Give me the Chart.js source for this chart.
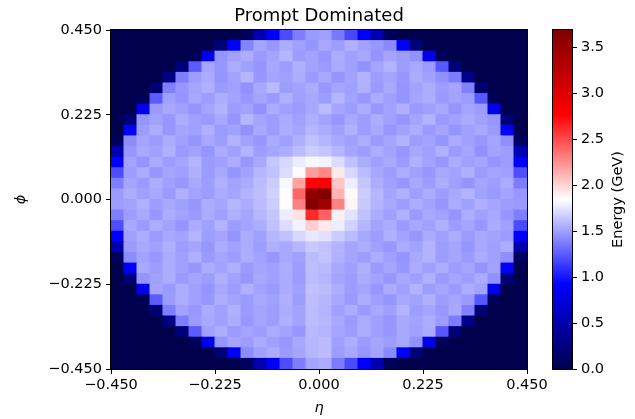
<!DOCTYPE html>
<html><head><meta charset="utf-8">
<script src="https://cdn.jsdelivr.net/npm/chart.js@4.4.1/dist/chart.umd.min.js"></script>
<style>
html,body{margin:0;padding:0;background:#fff;}
#wrap{position:relative;width:635px;height:419px;overflow:hidden;}
#main{position:absolute;left:0;top:0;}
#cbar{position:absolute;left:540px;top:0;}
</style></head><body>
<div id="wrap"><canvas id="main" width="635" height="419"></canvas><canvas id="cbar" width="95" height="419"></canvas></div>
<script>
// bin edges shared by eta (x) and phi (y)
const binEdges = [-0.45, -0.421875, -0.39375, -0.365625, -0.3375, -0.309375, -0.28125, -0.253125, -0.225,
  -0.196875, -0.16875, -0.140625, -0.1125, -0.084375, -0.05625, -0.028125, 0,
  0.028125, 0.05625, 0.084375, 0.1125, 0.140625, 0.16875, 0.196875, 0.225,
  0.253125, 0.28125, 0.309375, 0.3375, 0.365625, 0.39375, 0.421875, 0.45];
const axisTicks = [-0.45, -0.225, 0, 0.225, 0.45];
const colorbarTicks = [0, 0.5, 1, 1.5, 2, 2.5, 3, 3.5];
const energyMin = 0;
const energyMax = 3.69;
// energy (GeV), rows listed top (phi = +0.45) to bottom (phi = -0.45), columns eta -0.45 -> 0.45
const energy = [
[0,0,0,0,0,0,0,0,0,0,0.09,0.52,0.90,1.19,1.38,1.48,1.50,1.36,1.18,0.92,0.50,0.08,0,0,0,0,0,0,0,0,0,0],
[0,0,0,0,0,0,0,0,0.22,0.92,1.40,1.52,1.47,1.55,1.50,1.46,1.53,1.49,1.56,1.51,1.47,1.42,0.90,0.23,0,0,0,0,0,0,0,0],
[0,0,0,0,0,0,0.06,0.83,1.46,1.50,1.55,1.48,1.52,1.58,1.49,1.51,1.47,1.55,1.50,1.53,1.46,1.52,1.49,1.45,0.82,0.06,0,0,0,0,0,0],
[0,0,0,0,0,0.22,1.25,1.52,1.47,1.55,1.50,1.46,1.53,1.49,1.56,1.51,1.48,1.54,1.50,1.45,1.52,1.57,1.49,1.53,1.48,1.24,0.23,0,0,0,0,0],
[0,0,0,0,0.30,1.38,1.49,1.54,1.46,1.51,1.58,1.47,1.52,1.50,1.55,1.48,1.53,1.46,1.51,1.57,1.49,1.52,1.47,1.54,1.50,1.45,1.37,0.31,0,0,0,0],
[0,0,0,0.21,1.38,1.47,1.52,1.56,1.48,1.50,1.45,1.53,1.59,1.49,1.51,1.54,1.47,1.52,1.50,1.56,1.48,1.53,1.46,1.51,1.55,1.49,1.52,1.39,0.20,0,0,0],
[0,0,0.06,1.25,1.50,1.46,1.53,1.49,1.55,1.51,1.47,1.52,1.48,1.56,1.50,1.53,1.49,1.58,1.51,1.47,1.54,1.50,1.46,1.52,1.55,1.48,1.51,1.49,1.24,0.06,0,0],
[0,0,0.83,1.48,1.53,1.50,1.46,1.52,1.57,1.49,1.51,1.45,1.54,1.50,1.48,1.53,1.60,1.52,1.49,1.55,1.47,1.51,1.56,1.48,1.50,1.53,1.46,1.52,1.49,0.82,0,0],
[0,0.22,1.46,1.51,1.47,1.55,1.50,1.48,1.53,1.46,1.58,1.52,1.49,1.54,1.50,1.56,1.51,1.47,1.53,1.49,1.55,1.50,1.46,1.52,1.57,1.48,1.51,1.54,1.50,1.47,0.23,0],
[0,0.92,1.49,1.54,1.47,1.52,1.50,1.56,1.48,1.51,1.45,1.53,1.49,1.55,1.52,1.58,1.54,1.50,1.56,1.49,1.53,1.47,1.51,1.55,1.48,1.52,1.46,1.50,1.53,1.48,0.91,0],
[0.09,1.43,1.52,1.48,1.55,1.50,1.46,1.53,1.49,1.57,1.51,1.47,1.54,1.50,1.56,1.62,1.58,1.53,1.50,1.55,1.48,1.52,1.57,1.49,1.51,1.46,1.54,1.50,1.47,1.52,1.44,0.09],
[0.52,1.47,1.53,1.50,1.56,1.48,1.51,1.46,1.54,1.50,1.57,1.49,1.52,1.55,1.60,1.66,1.63,1.58,1.52,1.49,1.55,1.51,1.47,1.53,1.50,1.56,1.48,1.52,1.45,1.51,1.49,0.53],
[0.90,1.51,1.46,1.54,1.49,1.52,1.57,1.48,1.50,1.55,1.47,1.53,1.64,1.70,1.78,1.82,1.80,1.72,1.62,1.55,1.50,1.53,1.48,1.56,1.51,1.47,1.54,1.50,1.52,1.46,1.49,0.89],
[1.20,1.49,1.54,1.47,1.52,1.50,1.56,1.48,1.53,1.46,1.51,1.58,1.62,1.72,1.86,2.20,2.28,1.92,1.70,1.60,1.53,1.49,1.55,1.50,1.47,1.53,1.51,1.56,1.48,1.52,1.50,1.21],
[1.38,1.52,1.48,1.55,1.50,1.47,1.53,1.49,1.56,1.51,1.54,1.60,1.66,1.82,2.18,2.76,2.82,2.05,1.78,1.64,1.55,1.50,1.47,1.53,1.49,1.55,1.50,1.46,1.52,1.49,1.54,1.37],
[1.48,1.55,1.50,1.53,1.48,1.56,1.51,1.49,1.54,1.52,1.57,1.61,1.68,1.85,2.40,3.58,3.69,2.12,1.86,1.66,1.58,1.52,1.56,1.50,1.54,1.49,1.53,1.57,1.51,1.48,1.52,1.47],
[1.49,1.51,1.56,1.49,1.53,1.50,1.47,1.55,1.52,1.58,1.54,1.60,1.66,1.84,2.30,3.66,3.45,2.30,1.88,1.65,1.57,1.53,1.49,1.55,1.51,1.47,1.54,1.50,1.56,1.52,1.49,1.48],
[1.38,1.49,1.53,1.47,1.55,1.51,1.48,1.54,1.50,1.56,1.52,1.58,1.64,1.78,1.95,2.62,2.42,1.90,1.74,1.62,1.54,1.50,1.56,1.48,1.53,1.51,1.46,1.55,1.50,1.53,1.47,1.38],
[1.20,1.53,1.48,1.55,1.51,1.46,1.54,1.50,1.57,1.49,1.52,1.55,1.62,1.72,1.80,2.02,1.92,1.78,1.68,1.58,1.51,1.55,1.48,1.53,1.50,1.56,1.49,1.52,1.47,1.54,1.50,1.19],
[0.90,1.50,1.55,1.48,1.53,1.51,1.57,1.49,1.52,1.46,1.54,1.50,1.58,1.62,1.70,1.76,1.74,1.66,1.60,1.53,1.49,1.56,1.51,1.47,1.54,1.50,1.55,1.48,1.53,1.51,1.49,0.91],
[0.52,1.48,1.53,1.50,1.56,1.49,1.52,1.47,1.55,1.51,1.54,1.49,1.56,1.53,1.58,1.65,1.62,1.57,1.52,1.55,1.50,1.47,1.54,1.51,1.57,1.49,1.52,1.46,1.53,1.50,1.55,0.51],
[0.09,1.43,1.51,1.47,1.54,1.50,1.56,1.48,1.52,1.49,1.55,1.51,1.47,1.53,1.50,1.60,1.63,1.56,1.52,1.49,1.55,1.50,1.46,1.53,1.57,1.49,1.52,1.48,1.54,1.50,1.44,0.09],
[0,0.92,1.53,1.49,1.55,1.50,1.47,1.54,1.51,1.56,1.48,1.52,1.50,1.55,1.49,1.61,1.59,1.53,1.50,1.56,1.48,1.52,1.47,1.54,1.50,1.55,1.49,1.52,1.46,1.51,0.92,0],
[0,0.22,1.46,1.50,1.55,1.48,1.52,1.49,1.56,1.51,1.47,1.53,1.50,1.54,1.48,1.60,1.58,1.52,1.49,1.55,1.51,1.47,1.53,1.50,1.56,1.48,1.52,1.49,1.54,1.45,0.23,0],
[0,0,0.83,1.52,1.48,1.55,1.50,1.46,1.53,1.49,1.56,1.51,1.48,1.54,1.50,1.62,1.60,1.55,1.49,1.52,1.47,1.54,1.50,1.57,1.49,1.52,1.48,1.55,1.51,0.82,0,0],
[0,0,0.06,1.25,1.49,1.54,1.50,1.47,1.55,1.51,1.48,1.53,1.50,1.56,1.49,1.61,1.58,1.53,1.48,1.55,1.50,1.46,1.53,1.51,1.56,1.49,1.52,1.48,1.24,0.06,0,0],
[0,0,0,0.21,1.38,1.51,1.47,1.54,1.50,1.56,1.48,1.52,1.49,1.55,1.51,1.60,1.57,1.50,1.54,1.48,1.53,1.50,1.57,1.49,1.52,1.47,1.53,1.39,0.21,0,0,0],
[0,0,0,0,0.30,1.38,1.48,1.53,1.50,1.55,1.47,1.52,1.49,1.56,1.51,1.60,1.58,1.53,1.48,1.54,1.50,1.46,1.53,1.51,1.55,1.49,1.37,0.30,0,0,0,0],
[0,0,0,0,0,0.22,1.25,1.50,1.55,1.48,1.52,1.49,1.54,1.51,1.47,1.59,1.57,1.52,1.49,1.55,1.50,1.47,1.53,1.50,1.54,1.24,0.23,0,0,0,0,0],
[0,0,0,0,0,0,0.06,0.83,1.46,1.52,1.49,1.54,1.50,1.47,1.53,1.58,1.60,1.50,1.55,1.48,1.52,1.49,1.53,1.45,0.82,0.06,0,0,0,0,0,0],
[0,0,0,0,0,0,0,0,0.22,0.92,1.43,1.50,1.54,1.48,1.52,1.58,1.60,1.49,1.53,1.47,1.51,1.42,0.91,0.23,0,0,0,0,0,0,0,0],
[0,0,0,0,0,0,0,0,0,0,0.09,0.52,0.90,1.20,1.38,1.52,1.54,1.37,1.19,0.91,0.51,0.08,0,0,0,0,0,0,0,0,0,0]
];

// matplotlib "seismic" colormap anchors
const seismicStops = [[0, 0, 0, 0.3], [0.25, 0, 0, 1], [0.5, 1, 1, 1], [0.75, 1, 0, 0], [1, 0.5, 0, 0]];
function rgbOf(s) { return 'rgb(' + Math.round(s[1]*255) + ',' + Math.round(s[2]*255) + ',' + Math.round(s[3]*255) + ')'; }
function seismic(t) {
  t = Math.max(0, Math.min(1, t));
  for (let i = 1; i < seismicStops.length; i++) {
    const a = seismicStops[i-1], b = seismicStops[i];
    if (t <= b[0]) {
      const f = (t - a[0]) / (b[0] - a[0]);
      return rgbOf([0, a[1]+(b[1]-a[1])*f, a[2]+(b[2]-a[2])*f, a[3]+(b[3]-a[3])*f]);
    }
  }
  return rgbOf(seismicStops[seismicStops.length-1]);
}

Chart.defaults.font.family = "'DejaVu Sans', sans-serif";
Chart.defaults.color = '#000';

const nBins = binEdges.length - 1;
const cells = [];
for (let r = 0; r < energy.length; r++) {
  for (let c = 0; c < energy[r].length; c++) {
    cells.push({ x: (binEdges[c] + binEdges[c+1]) / 2, y: [binEdges[nBins-1-r], binEdges[nBins-r]], v: energy[r][c] });
  }
}

const fmt3 = v => Number(v).toFixed(3).replace('-', '\u2212');
const framePlugin = {
  id: 'frame',
  afterDraw(chart) {
    const a = chart.chartArea, ctx = chart.ctx;
    ctx.save();
    ctx.strokeStyle = '#000'; ctx.lineWidth = 1;
    ctx.strokeRect(Math.round(a.left) - 0.5, Math.round(a.top) - 0.5, Math.round(a.right - a.left) + 1, Math.round(a.bottom - a.top) + 1);
    ctx.restore();
  }
};

new Chart(document.getElementById('main'), {
  type: 'bar',
  data: { datasets: [{
    data: cells,
    backgroundColor: ctx => ctx.raw ? seismic((ctx.raw.v - energyMin) / (energyMax - energyMin)) : '#000',
    borderWidth: 0, barPercentage: 1, categoryPercentage: 1, inflateAmount: 0.5,
    base: -10
  }]},
  options: {
    responsive: false, animation: false, events: [],
    layout: { padding: { left: 0, right: 108, top: 0, bottom: 0 } },
    plugins: {
      legend: { display: false }, tooltip: { enabled: false },
      title: { display: true, text: 'Prompt Dominated', fullSize: false, color: '#000',
        font: { size: 18, weight: 'normal' }, padding: { top: 5.5, bottom: 2.9 } }
    },
    scales: {
      x: {
        type: 'linear', min: -0.45, max: 0.45, offset: false,
        afterBuildTicks: s => { s.ticks = axisTicks.map(v => ({ value: v })); },
        afterFit: s => { s.height = 50; },
        ticks: { callback: fmt3, font: { size: 14.5 }, color: '#000', padding: 3, maxRotation: 0, autoSkip: false },
        grid: { offset: false, drawOnChartArea: false, drawTicks: true, tickLength: 5, color: '#000' },
        border: { display: false },
        title: { display: true, text: 'η', color: '#000', font: { size: 14.5, style: 'italic' }, padding: { top: 0, bottom: 2 } }
      },
      y: {
        type: 'linear', min: -0.45, max: 0.45,
        afterBuildTicks: s => { s.ticks = axisTicks.map(v => ({ value: v })); },
        afterFit: s => { s.width = 111; },
        ticks: { callback: fmt3, font: { size: 14.5 }, color: '#000', padding: 4, autoSkip: false },
        grid: { drawOnChartArea: false, drawTicks: true, tickLength: 5, color: '#000' },
        border: { display: false },
        title: { display: true, text: 'ϕ', color: '#000', font: { size: 14.5, style: 'italic' }, padding: { top: 13, bottom: 0 } }
      }
    }
  },
  plugins: [framePlugin]
});

function cbGradient(ctx) {
  const ch = ctx.chart;
  if (!ch.chartArea) return '#888';
  const y = ch.scales.y;
  const g = ch.ctx.createLinearGradient(0, y.getPixelForValue(energyMin), 0, y.getPixelForValue(energyMax));
  seismicStops.forEach(s => g.addColorStop(s[0], rgbOf(s)));
  return g;
}
const cbLabelPlugin = {
  id: 'cblabel',
  afterDraw(chart) {
    const a = chart.chartArea, ctx = chart.ctx;
    ctx.save();
    ctx.translate(78, (a.top + a.bottom) / 2);
    ctx.rotate(-Math.PI / 2);
    ctx.fillStyle = '#000';
    ctx.font = "14.5px 'DejaVu Sans', sans-serif";
    ctx.textAlign = 'center'; ctx.textBaseline = 'middle';
    ctx.fillText('Energy (GeV)', 0, 0);
    ctx.restore();
  }
};

new Chart(document.getElementById('cbar'), {
  type: 'bar',
  data: { labels: ['E'], datasets: [{ data: [[energyMin, energyMax]], backgroundColor: cbGradient, borderWidth: 0, barPercentage: 1, categoryPercentage: 1, base: -10 }] },
  options: {
    responsive: false, animation: false, events: [],
    layout: { padding: { left: 13, right: 0, top: 30, bottom: 50 } },
    plugins: { legend: { display: false }, tooltip: { enabled: false } },
    scales: {
      x: { display: false },
      y: {
        position: 'right', min: energyMin, max: energyMax,
        afterBuildTicks: s => { s.ticks = colorbarTicks.map(v => ({ value: v })); },
        afterFit: s => { s.width = 63; },
        ticks: { callback: v => Number(v).toFixed(1), font: { size: 14.5 }, color: '#000', padding: 4, autoSkip: false },
        grid: { drawOnChartArea: false, drawTicks: true, tickLength: 5, color: '#000' },
        border: { display: false }
      }
    }
  },
  plugins: [framePlugin, cbLabelPlugin]
});
</script>
</body></html>
